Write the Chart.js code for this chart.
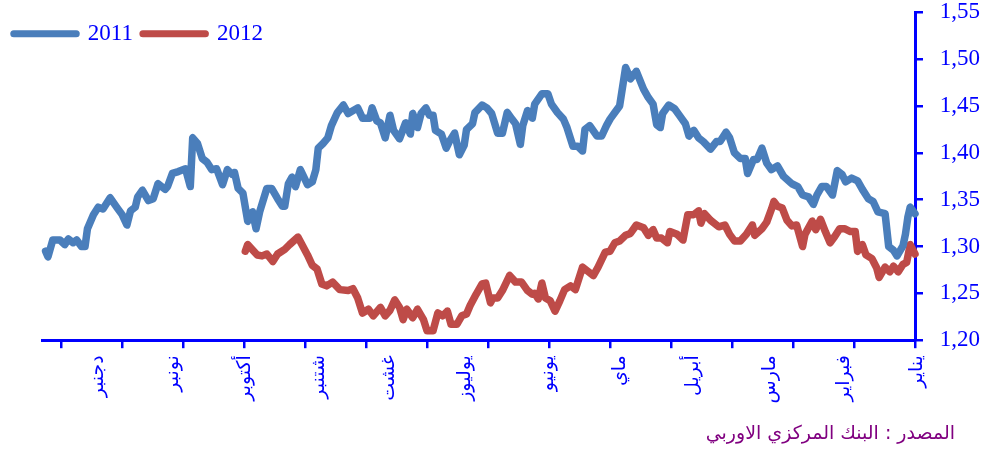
<!DOCTYPE html>
<html><head><meta charset="utf-8">
<script src="https://cdn.jsdelivr.net/npm/chart.js@4.4.0/dist/chart.umd.min.js"></script>
<style>html,body{margin:0;padding:0;background:#fff;} canvas{display:block;}</style>
</head><body>
<canvas id="c" width="984" height="452"></canvas>
<script>
const seriesNames = ['2011', '2012'];
const monthLabels = ['يناير','فبراير','مارس','أبريل','ماي','يونيو','يوليوز','غشت','شتنبر','أكتوبر','نونبر','دجنبر'];
const monthLabelDays = [-1, 29.5, 60.5, 93, 123.5, 153.5, 188, 220, 249, 280, 310, 341.5];
const tickMarkDays = [0, 25.5, 51, 76.5, 102, 127.5, 153, 178.5, 204, 229.5, 255, 280.5, 306, 331.5, 357];
const sourceNote = 'المصدر : البنك المركزي الاوربي';

const days2011 = [0,2,3,4,5,7.5,9,11,12.5,15.5,17.5,19.5,22,24,26.5,29,30.5,32.5,34.5,37,39,41,42.5,44.5,47,49,51.5,55,57.5,60,62,64,66,67.5,70,71,73,75.5,77.5,79,81.5,83,85.5,88.5,90.5,92.5,94.5,96,98.5,100.5,103,105.5,106.5,108,109.5,111.5,113.5,116.5,119,121,123.5,125.5,127.5,129,131,133,136,138,139,141,143,145.5,147,149.5,152,153.5,156,159,160,162,164,165,167,168.5,170.5,172.5,174.5,177,179,181,184,185,187.5,188.5,190.5,192.5,194.5,196,198,200.5,201.5,203,204.5,206.5,208,210,211,213,215.5,218,219.5,221.5,223.5,225,227,228,231,233,237,239,241.5,244,245.5,247.5,249.5,250.5,252,254,257,259,260.5,262,263.5,264.5,266.5,269,271,274,275.5,277,279,281,283,284.5,285.5,287.5,289.5,292,294,296,298,300,302,303,305,308,310.5,312.5,313.5,316.5,318.5,320.5,323,325,326,328,329.5,331.5,333.5,336.5,339.5,341.5,343.5,346,347,348.5,350.5,352,354,355.5,357.5,360.5,362.5,363.5];
const eur2011 = [1.335,1.342,1.331,1.313,1.301,1.290,1.296,1.300,1.335,1.337,1.348,1.351,1.361,1.370,1.373,1.369,1.377,1.381,1.355,1.364,1.364,1.355,1.345,1.353,1.355,1.364,1.367,1.375,1.386,1.382,1.389,1.405,1.393,1.393,1.378,1.394,1.394,1.400,1.416,1.422,1.412,1.412,1.404,1.412,1.416,1.424,1.418,1.431,1.440,1.447,1.451,1.442,1.427,1.430,1.452,1.459,1.468,1.487,1.479,1.491,1.450,1.443,1.436,1.429,1.418,1.418,1.429,1.425,1.402,1.407,1.407,1.427,1.436,1.443,1.452,1.463,1.463,1.452,1.437,1.445,1.429,1.409,1.431,1.436,1.443,1.421,1.421,1.442,1.448,1.451,1.443,1.431,1.425,1.408,1.398,1.421,1.413,1.405,1.420,1.424,1.440,1.440,1.448,1.442,1.427,1.442,1.420,1.432,1.415,1.424,1.440,1.416,1.432,1.434,1.448,1.437,1.437,1.448,1.442,1.451,1.443,1.429,1.416,1.410,1.405,1.382,1.369,1.366,1.382,1.364,1.374,1.367,1.343,1.343,1.351,1.362,1.362,1.337,1.319,1.337,1.327,1.357,1.362,1.379,1.377,1.382,1.366,1.383,1.382,1.390,1.394,1.410,1.416,1.364,1.383,1.380,1.378,1.364,1.361,1.367,1.351,1.349,1.360,1.353,1.342,1.338,1.323,1.334,1.341,1.352,1.340,1.342,1.334,1.319,1.300,1.300,1.307,1.304,1.308,1.302,1.307,1.307,1.289,1.295];

const days2012 = [0,2,3.5,5,7,9,10.5,12.5,15,16,18,20.5,22,24,25,27,29.5,31.5,33.5,35.5,37.5,39.5,41.5,43,46,47,49.5,51.5,53.5,55.5,57.5,59,60,62,64,67,68,70.5,73,75.5,77.5,79.5,82,85.5,88,89.5,90.5,92.5,95,97,99.5,102.5,103.5,106,108,109.5,111.5,113.5,116.5,119,121,123.5,125.5,127.5,129.5,132.5,134.5,137,139,142,144,146.5,148.5,150.5,152.5,154.5,156,157.5,159,160,162,164.5,167,169.5,172.5,174.5,176.5,177.5,179.5,181,183.5,186,187.5,189.5,191.5,194,195.5,197.5,199.5,201.5,204,205.5,208,210,212.5,214,215.5,217.5,219.5,221.5,223.5,226.5,228.5,231,233,235,237,240.5,243.5,246,248,250,252,254,256.5,258,261.5,263.5,266.5,268.5,271,273,275,279,280];
const eur2012 = [1.292,1.302,1.283,1.281,1.273,1.279,1.273,1.278,1.267,1.277,1.287,1.291,1.302,1.295,1.316,1.316,1.319,1.319,1.311,1.304,1.316,1.329,1.318,1.327,1.313,1.300,1.323,1.322,1.328,1.341,1.343,1.348,1.340,1.326,1.319,1.312,1.323,1.313,1.306,1.306,1.313,1.323,1.321,1.328,1.335,1.325,1.338,1.334,1.334,1.307,1.313,1.316,1.304,1.309,1.309,1.318,1.312,1.320,1.323,1.314,1.312,1.306,1.304,1.295,1.294,1.278,1.269,1.274,1.278,1.254,1.258,1.254,1.242,1.231,1.242,1.245,1.261,1.244,1.250,1.249,1.253,1.262,1.262,1.269,1.253,1.245,1.245,1.240,1.261,1.260,1.249,1.237,1.228,1.226,1.217,1.217,1.231,1.226,1.229,1.210,1.210,1.222,1.233,1.224,1.233,1.222,1.235,1.243,1.232,1.226,1.235,1.226,1.233,1.229,1.245,1.255,1.253,1.254,1.262,1.258,1.260,1.276,1.280,1.291,1.303,1.310,1.302,1.297,1.292,1.284,1.292,1.290,1.291,1.302,1.295];

const BLUE = '#0000FF';
const SERIF = "'Liberation Serif', 'Times New Roman', serif";
const ARABIC = "'DejaVu Sans', sans-serif";

function pts(xs, ys) { return xs.map((x, i) => ({ x: x, y: ys[i] })); }

// Legend laid over the top of the plot (takes no layout height), starting near the left edge.
const legendOverlay = {
  id: 'legendOverlay',
  beforeLayout(chart) {
    const lg = chart.legend;
    if (lg && !lg.__overlay) {
      const fit = lg.fit.bind(lg);
      lg.fit = function () { fit(); this.height = 0; };
      lg.__overlay = true;
    }
  },
  afterLayout(chart) {
    const lg = chart.legend;
    if (lg) { lg.left = 3.75; lg.height = 50; lg.bottom = lg.top + 50; }
  }
};

new Chart(document.getElementById('c'), {
  type: 'line',
  data: {
    datasets: [
      { label: seriesNames[0], data: pts(days2011, eur2011), borderColor: '#4A7EBB', backgroundColor: '#4A7EBB',
        borderWidth: 7.5, pointRadius: 0, borderCapStyle: 'round', borderJoinStyle: 'round', tension: 0, clip: false },
      { label: seriesNames[1], data: pts(days2012, eur2012), borderColor: '#BE4B48', backgroundColor: '#BE4B48',
        borderWidth: 7.5, pointRadius: 0, borderCapStyle: 'round', borderJoinStyle: 'round', tension: 0, clip: false }
    ]
  },
  options: {
    responsive: false,
    animation: false,
    events: [],
    layout: { padding: { left: 42, right: 29, top: 12.3, bottom: 0 } },
    plugins: {
      legend: {
        position: 'top', align: 'start',
        labels: { usePointStyle: true, pointStyle: 'line', pointStyleWidth: 62.5, padding: 10,
          color: BLUE, font: { family: SERIF, size: 23 },
          generateLabels: chart => Chart.defaults.plugins.legend.labels.generateLabels(chart)
            .map(item => Object.assign(item, { lineCap: 'round', lineWidth: 7 })) }
      },
      title: {
        display: true, position: 'bottom', align: 'end', text: sourceNote,
        color: '#800080', font: { family: ARABIC, size: 19, weight: 'normal' },
        padding: { top: 0, bottom: 7 }
      },
      tooltip: { enabled: false }
    },
    scales: {
      x: {
        type: 'linear', position: 'bottom', reverse: true, min: 0, max: 365, weight: 0,
        grid: { drawOnChartArea: false, drawTicks: true, tickLength: 8, color: BLUE, lineWidth: 2.5 },
        border: { display: true, color: BLUE, width: 3 },
        ticks: { display: false },
        afterBuildTicks: s => { s.ticks = tickMarkDays.map(v => ({ value: v })); },
        afterFit: s => { s.height = 8; s.paddingLeft = 0; s.paddingRight = 0; }
      },
      xl: {
        type: 'linear', position: 'bottom', reverse: true, min: 0, max: 365, weight: 1,
        grid: { display: false, drawTicks: false },
        border: { display: false },
        ticks: { autoSkip: false, minRotation: 90, maxRotation: 90, padding: 7, color: BLUE,
          font: { family: ARABIC, size: 19 },
          callback: (v, i) => monthLabels[i] },
        afterBuildTicks: s => { s.ticks = monthLabelDays.map(v => ({ value: v })); },
        afterFit: s => { s.height = 74; s.paddingLeft = 0; s.paddingRight = 0; }
      },
      y: {
        type: 'linear', position: 'right', min: 1.2, max: 1.55,
        grid: { drawOnChartArea: false, drawTicks: true, tickLength: 8, color: BLUE, lineWidth: 2.5 },
        border: { display: true, color: BLUE, width: 3 },
        ticks: { stepSize: 0.05, mirror: true, crossAlign: 'near', padding: 65, color: BLUE,
          font: { family: SERIF, size: 23 },
          callback: v => v.toFixed(2).replace('.', ',') },
        afterFit: s => { s.width = 40; s.paddingTop = 0; s.paddingBottom = 0; }
      }
    }
  },
  plugins: [legendOverlay]
});
</script>
</body></html>
